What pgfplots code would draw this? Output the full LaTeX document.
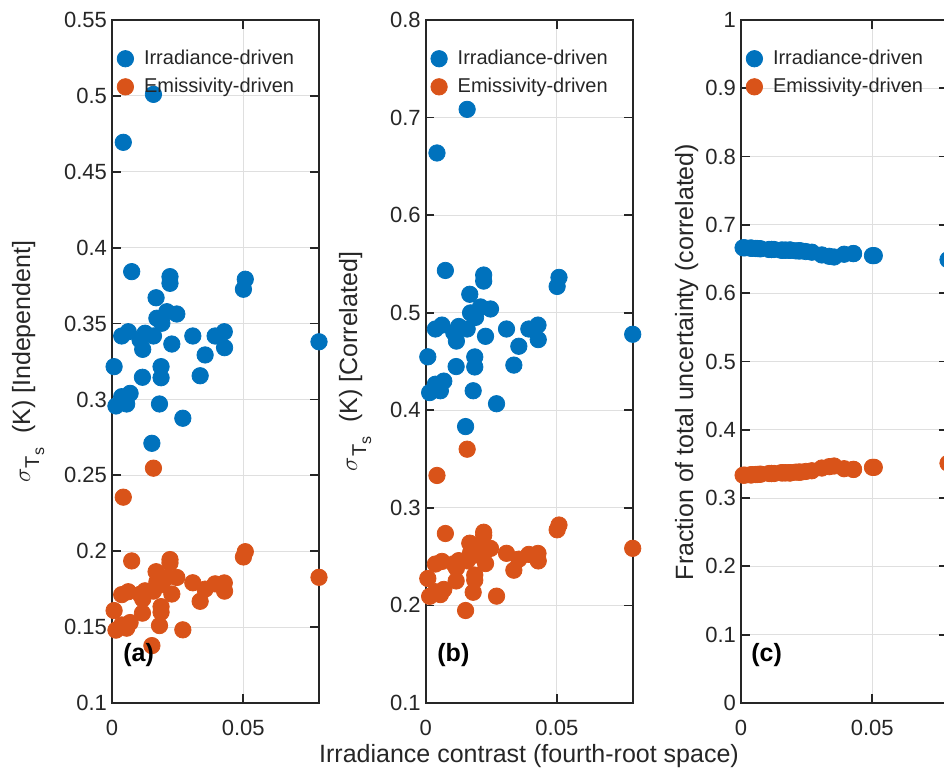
\documentclass[border=0pt]{standalone}
\usepackage{amsmath}
\usepackage{fontspec}
\setmainfont{Liberation Sans}
\usepackage{pgfplots}
\usepackage{pgfplotstable}
\pgfplotsset{compat=1.18}

\definecolor{mblue}{RGB}{0,114,189}
\definecolor{morange}{RGB}{217,83,25}
\definecolor{axgray}{RGB}{38,38,38}
\definecolor{gridgray}{RGB}{223,223,223}

% x = contrast, a* = panel (a), b* = panel (b), c* = panel (c); b = irradiance, o = emissivity
\pgfplotstableread{
x      ab     ao     bb     bo     cb     co
0.0008 0.3216 0.1609 0.4548 0.2276 0.6665 0.3335
0.0015 0.2957 0.1480 0.4181 0.2093 0.6664 0.3336
0.0037 0.3418 0.1714 0.4833 0.2424 0.6660 0.3340
0.0037 0.3018 0.1514 0.4267 0.2140 0.6660 0.3340
0.0043 0.4694 0.2356 0.6637 0.3332 0.6658 0.3342
0.0056 0.2970 0.1493 0.4200 0.2111 0.6655 0.3345
0.0062 0.3446 0.1733 0.4873 0.2451 0.6654 0.3346
0.0069 0.3040 0.1530 0.4299 0.2164 0.6652 0.3348
0.0075 0.3842 0.1936 0.5433 0.2737 0.6650 0.3350
0.0107 0.3392 0.1716 0.4796 0.2427 0.6640 0.3360
0.0116 0.3146 0.1592 0.4448 0.2251 0.6640 0.3360
0.0117 0.3330 0.1685 0.4709 0.2383 0.6640 0.3360
0.0126 0.3436 0.1739 0.4859 0.2459 0.6640 0.3360
0.0152 0.2711 0.1378 0.3833 0.1948 0.6630 0.3370
0.0158 0.3418 0.1737 0.4833 0.2457 0.6630 0.3370
0.0158 0.5010 0.2547 0.7084 0.3601 0.6630 0.3370
0.0168 0.3670 0.1865 0.5189 0.2638 0.6630 0.3370
0.0171 0.3535 0.1797 0.4998 0.2540 0.6630 0.3370
0.0181 0.2970 0.1510 0.4200 0.2135 0.6630 0.3370
0.0187 0.3216 0.1635 0.4547 0.2311 0.6630 0.3370
0.0187 0.3143 0.1598 0.4444 0.2259 0.6630 0.3370
0.0190 0.3502 0.1780 0.4952 0.2517 0.6630 0.3370
0.0209 0.3578 0.1827 0.5059 0.2583 0.6620 0.3380
0.0221 0.3809 0.1945 0.5386 0.2750 0.6620 0.3380
0.0221 0.3765 0.1922 0.5324 0.2718 0.6620 0.3380
0.0228 0.3365 0.1718 0.4758 0.2429 0.6620 0.3380
0.0247 0.3563 0.1827 0.5038 0.2584 0.6610 0.3390
0.0270 0.2876 0.1482 0.4067 0.2095 0.6600 0.3400
0.0308 0.3418 0.1792 0.4833 0.2534 0.6560 0.3440
0.0336 0.3156 0.1670 0.4463 0.2361 0.6540 0.3460
0.0355 0.3293 0.1750 0.4656 0.2474 0.6530 0.3470
0.0393 0.3418 0.1785 0.4833 0.2523 0.6570 0.3430
0.0428 0.3446 0.1791 0.4873 0.2533 0.6580 0.3420
0.0429 0.3341 0.1737 0.4724 0.2456 0.6580 0.3420
0.0501 0.3726 0.1962 0.5269 0.2775 0.6550 0.3450
0.0508 0.3792 0.1997 0.5362 0.2824 0.6550 0.3450
0.0789 0.3380 0.1828 0.4779 0.2585 0.6490 0.3510
}\data

\pgfplotsset{
  panel/.style={
    scale only axis, width=103.5pt, height=341.5pt, anchor=south west,
    xmin=0, xmax=0.0789, xtick={0,0.05}, xticklabels={0,0.05},
    scaled x ticks=false, scaled y ticks=false,
    clip=false,
    axis line style={draw=axgray, line width=0.9pt},
    every tick/.style={draw=axgray, line width=0.9pt},
    major tick length=4.3pt, tick align=inside,
    xmajorgrids, ymajorgrids,
    major grid style={draw=gridgray, line width=0.5pt},
    ticklabel style={font=\fontsize{11}{13}\selectfont, text=axgray},
    /pgf/number format/assume math mode=true,
    xticklabel style={yshift=-4.8pt},
    yticklabel style={xshift=1pt},
    legend cell align=left,
    legend image code/.code={\path[draw=none, fill=none] (-5pt,0pt) -- (5pt,0pt); \draw[##1] plot coordinates {(0pt,0pt)};},
    legend style={draw=none, fill=none, at={(0,1)}, anchor=north west,
      xshift=1.5pt, yshift=-13.3pt, inner sep=0pt,
      nodes={inner sep=1.5pt, text=axgray},
      font=\fontsize{10}{12}\selectfont, column sep=2.8pt, row sep=2.3pt},
  },
  irr/.style={only marks, mark=*, mark size=4.1pt, color=mblue},
  emi/.style={only marks, mark=*, mark size=4.1pt, color=morange},
}

\newcommand{\sigT}{$\sigma$\raisebox{-4.5pt}{\fontsize{10}{12}\selectfont T\raisebox{-2.5pt}{\fontsize{8}{10}\selectfont s}}}

\begin{document}
\begin{tikzpicture}
\begin{axis}[panel, at={(56pt,33.5pt)},
  ymin=0.1, ymax=0.55,
  ytick={0.1,0.15,0.2,0.25,0.3,0.35,0.4,0.45,0.5,0.55},
  yticklabels={0.1,0.15,0.2,0.25,0.3,0.35,0.4,0.45,0.5,0.55}]
\addplot[irr] table[x=x, y=ab]{\data};
\addplot[emi] table[x=x, y=ao]{\data};
\legend{Irradiance-driven, Emissivity-driven}
\end{axis}

\begin{axis}[panel, at={(212.85pt,33.5pt)},
  ymin=0.1, ymax=0.8,
  ytick={0.1,0.2,0.3,0.4,0.5,0.6,0.7,0.8},
  yticklabels={0.1,0.2,0.3,0.4,0.5,0.6,0.7,0.8}]
\addplot[irr] table[x=x, y=bb]{\data};
\addplot[emi] table[x=x, y=bo]{\data};
\legend{Irradiance-driven, Emissivity-driven}
\end{axis}

\begin{axis}[panel, at={(370.5pt,33.5pt)},
  ymin=0, ymax=1,
  ytick={0,0.1,0.2,0.3,0.4,0.5,0.6,0.7,0.8,0.9,1},
  yticklabels={0,0.1,0.2,0.3,0.4,0.5,0.6,0.7,0.8,0.9,1}]
\addplot[irr] table[x=x, y=cb]{\data};
\addplot[emi] table[x=x, y=co]{\data};
\legend{Irradiance-driven, Emissivity-driven}
\end{axis}

% labels
\begin{scope}[every node/.style={text=axgray, inner sep=0pt, font=\fontsize{12.5}{15}\selectfont}]
\node[anchor=base, rotate=90] at (15pt,204.25pt) {\sigT\ \ (K) [Independent]};
\node[anchor=base, rotate=90] at (178.5pt,204.25pt) {\sigT\ \ (K) [Correlated]};
\node[anchor=base, rotate=90] at (346.5pt,204pt) {Fraction of total uncertainty (correlated)};
\node[anchor=base] at (264.5pt,3.5pt) {Irradiance contrast (fourth-root space)};
\node[anchor=base west, text=black, font=\fontsize{12.5}{15}\selectfont\bfseries] at (61.5pt,54.25pt) {(a)};
\node[anchor=base west, text=black, font=\fontsize{12.5}{15}\selectfont\bfseries] at (218.5pt,54.25pt) {(b)};
\node[anchor=base west, text=black, font=\fontsize{12.5}{15}\selectfont\bfseries] at (375.5pt,54.25pt) {(c)};
\end{scope}

\pgfresetboundingbox
\path[use as bounding box] (0pt,0pt) rectangle (472pt,385pt);
\end{tikzpicture}
\end{document}
